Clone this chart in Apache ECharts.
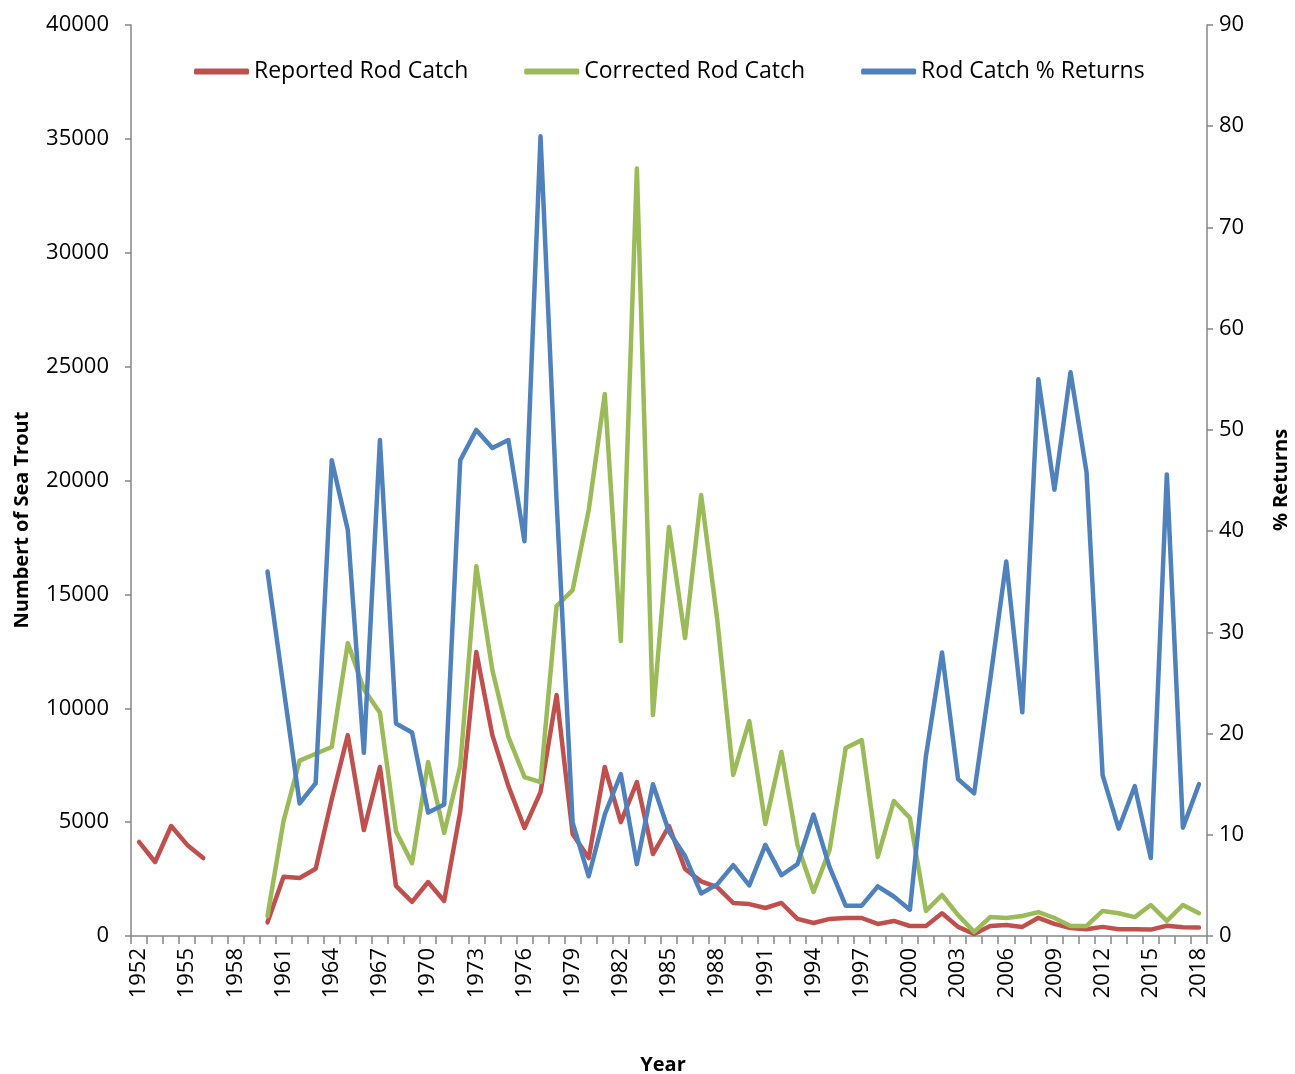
<!DOCTYPE html>
<html>
<head>
<meta charset="utf-8">
<script src="https://cdn.jsdelivr.net/npm/echarts@6/dist/echarts.min.js"></script>
<style>
  html, body { margin: 0; padding: 0; background: #fff; }
  #chart { width: 1295px; height: 1074px; }
</style>
</head>
<body>
<div id="chart"></div>
<script>
// years on the category axis
const years = [];
for (let y = 1952; y <= 2018; y++) years.push(String(y));

// Reported Rod Catch (left axis)
const reportedCatch = [
  4130, 3250, 4830, 4000, 3420, null, null, null,
  600, 2600, 2550, 2950, 6000, 8820, 4650, 7420, 2200, 1500,
  2370, 1540, 5450, 12470, 8820, 6580, 4740, 6320, 10580, 4480,
  3420, 7420, 5000, 6760, 3600, 4830, 2940, 2400, 2150, 1450,
  1400, 1230, 1450, 750, 570, 750, 790, 790, 530, 660,
  440, 440, 1000, 400, 90, 440, 480, 400, 800, 530,
  350, 300, 400, 300, 300, 280, 450, 380, 370
];

// Corrected Rod Catch (left axis)
const correctedCatch = [
  null, null, null, null, null, null, null, null,
  880, 5050, 7700, 8000, 8300, 12860, 10840, 9800, 4600, 3200,
  7640, 4520, 7460, 16240, 11680, 8740, 6980, 6760, 14490, 15190,
  18700, 23800, 12950, 33700, 9700, 17960, 13080, 19360, 13920, 7070,
  9440, 4920, 8080, 4000, 1930, 3780, 8250, 8600, 3470, 5930,
  5180, 1100, 1800, 920, 180, 830, 790, 880, 1050, 790,
  440, 440, 1100, 1000, 830, 1360, 660, 1360, 1000
];

// Rod Catch % Returns (right axis)
const pctReturns = [
  null, null, null, null, null, null, null, null,
  36.0, 24.5, 13.1, 15.1, 47.0, 40.1, 18.1, 49.0, 21.0, 20.1,
  12.2, 13.0, 47.0, 50.0, 48.2, 49.0, 39.0, 79.0, 43.0, 11.2,
  5.9, 12.0, 16.0, 7.1, 15.0, 10.3, 7.9, 4.2, 5.1, 7.0,
  5.0, 9.0, 6.0, 7.1, 12.0, 6.8, 3.0, 3.0, 4.9, 3.9,
  2.6, 17.8, 28.0, 15.5, 14.1, 25.3, 37.0, 22.1, 55.0, 44.1,
  55.7, 45.8, 15.9, 10.6, 14.8, 7.7, 45.6, 10.7, 15.0
];

const FONT = '"Open Sans", sans-serif';
const axisGray = '#868686';

const chart = echarts.init(document.getElementById('chart'));

function lineSeries(name, data, color, yIndex) {
  return {
    name: name,
    type: 'line',
    yAxisIndex: yIndex,
    data: data,
    showSymbol: false,
    symbol: 'none',
    connectNulls: false,
    lineStyle: { color: color, width: 4.5, cap: 'round', join: 'round' },
    itemStyle: { color: color },
    animation: false
  };
}

const option = {
  animation: false,
  backgroundColor: '#fff',
  grid: { left: 131, right: 88, top: 25, bottom: 138, containLabel: false },
  legend: {
    top: 55,
    left: 189,
    itemGap: 56,
    itemWidth: 55,
    itemHeight: 6,
    icon: 'roundRect',
    textStyle: { fontFamily: FONT, fontSize: 23, color: '#000' },
    data: ['Reported Rod Catch', 'Corrected Rod Catch', 'Rod Catch % Returns']
  },
  xAxis: {
    type: 'category',
    data: years,
    boundaryGap: true,
    axisLine: { lineStyle: { color: axisGray, width: 1.5 } },
    axisTick: { show: true, interval: 0, length: 8, lineStyle: { color: axisGray, width: 1.5 } },
    axisLabel: {
      interval: 2,
      rotate: 90,
      margin: 12,
      fontFamily: FONT,
      fontSize: 22,
      color: '#000'
    },
    splitLine: { show: false }
  },
  yAxis: [
    {
      type: 'value',
      min: 0,
      max: 40000,
      interval: 5000,
      position: 'left',
      axisLine: { show: true, lineStyle: { color: axisGray, width: 1.5 } },
      axisTick: { show: true, length: 6, lineStyle: { color: axisGray, width: 1.5 } },
      axisLabel: {
        margin: 22, fontFamily: FONT, fontSize: 22, color: '#000',
        formatter: (v) => String(v)
      },
      splitLine: { show: false }
    },
    {
      type: 'value',
      min: 0,
      max: 90,
      interval: 10,
      position: 'right',
      axisLine: { show: true, lineStyle: { color: axisGray, width: 1.5 } },
      axisTick: { show: true, length: 6, lineStyle: { color: axisGray, width: 1.5 } },
      axisLabel: { margin: 12, fontFamily: FONT, fontSize: 22, color: '#000' },
      splitLine: { show: false }
    }
  ],
  graphic: [
    {
      type: 'text',
      x: 22, y: 520,
      rotation: Math.PI / 2,
      style: {
        text: 'Numbert of Sea Trout',
        fontFamily: FONT, fontSize: 20, fontWeight: 'bold', fill: '#000',
        align: 'center', verticalAlign: 'middle'
      }
    },
    {
      type: 'text',
      x: 1281, y: 480,
      rotation: Math.PI / 2,
      style: {
        text: '% Returns',
        fontFamily: FONT, fontSize: 20, fontWeight: 'bold', fill: '#000',
        align: 'center', verticalAlign: 'middle'
      }
    },
    {
      type: 'text',
      x: 663, y: 1065,
      style: {
        text: 'Year',
        fontFamily: FONT, fontSize: 20, fontWeight: 'bold', fill: '#000',
        align: 'center', verticalAlign: 'middle'
      }
    }
  ],
  series: [
    lineSeries('Reported Rod Catch', reportedCatch, '#C0504D', 0),
    lineSeries('Corrected Rod Catch', correctedCatch, '#9BBB59', 0),
    lineSeries('Rod Catch % Returns', pctReturns, '#4F81BD', 1)
  ]
};

chart.setOption(option);
</script>
</body>
</html>
